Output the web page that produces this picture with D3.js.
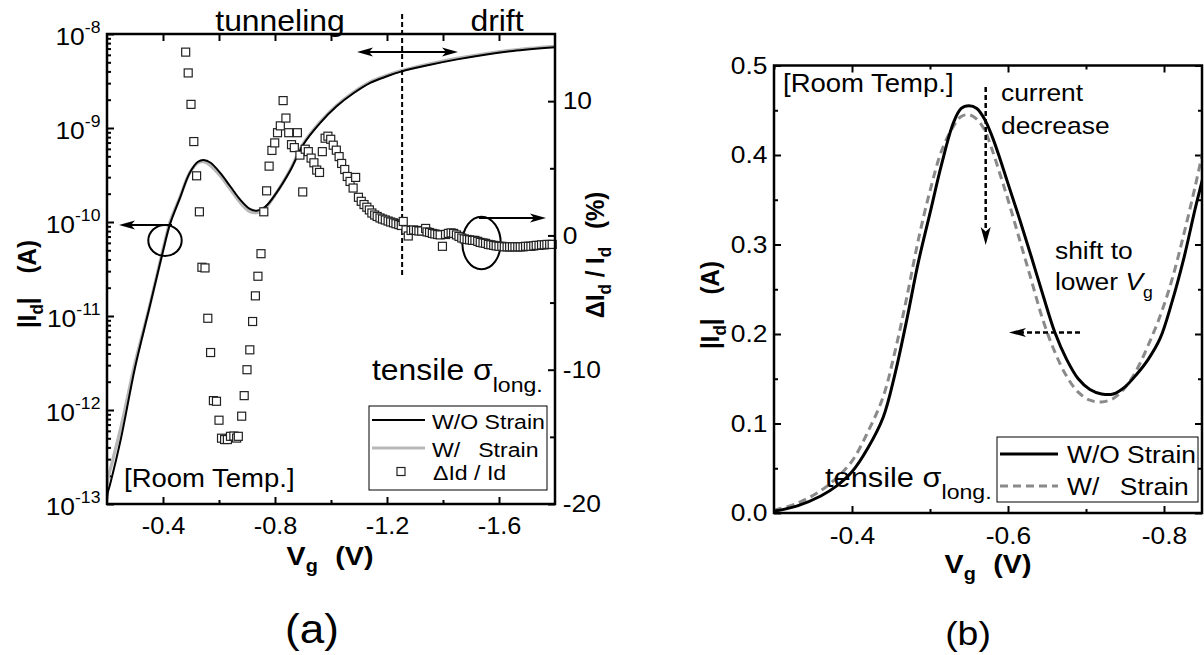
<!DOCTYPE html>
<html><head><meta charset="utf-8">
<script src="https://cdn.jsdelivr.net/npm/d3@7"></script>
<style>
html,body{margin:0;padding:0;background:#fff;}
svg{display:block;font-family:"Liberation Sans", Arial, Helvetica, sans-serif;}
</style></head><body>
<svg id="c" width="1204" height="655"></svg>
<script>
// ---------------- DATA ----------------
// Panel (a): gate voltage (V) and |Id| (A), log scale
const vgA = [-0.2, -0.203, -0.212, -0.25, -0.3, -0.35, -0.4, -0.425, -0.46, -0.495, -0.525, -0.545, -0.57, -0.605, -0.64, -0.675, -0.71, -0.735, -0.765, -0.805, -0.855, -0.9, -0.96, -1.02, -1.08, -1.14, -1.2, -1.25, -1.35, -1.45, -1.55, -1.65, -1.8];
const idNoStrainA = [1.0e-13, 1.32e-13, 1.66e-13, 5.0e-13, 2.82e-12, 1.17e-11, 4.9e-11, 9.5e-11, 1.78e-10, 3.31e-10, 4.37e-10, 4.57e-10, 4.27e-10, 3.31e-10, 2.40e-10, 1.74e-10, 1.38e-10, 1.32e-10, 1.45e-10, 2.04e-10, 3.55e-10, 6.6e-10, 1.12e-9, 1.70e-9, 2.34e-9, 3.02e-9, 3.55e-9, 3.98e-9, 4.68e-9, 5.37e-9, 6.03e-9, 6.61e-9, 7.24e-9];
const idStrainA = [1.58e-13, 1.85e-13, 2.35e-13, 6.6e-13, 3.16e-12, 1.20e-11, 5.1e-11, 1.0e-10, 1.82e-10, 3.31e-10, 4.27e-10, 4.37e-10, 3.98e-10, 3.09e-10, 2.24e-10, 1.62e-10, 1.29e-10, 1.26e-10, 1.41e-10, 2.04e-10, 3.63e-10, 6.76e-10, 1.15e-9, 1.74e-9, 2.40e-9, 3.09e-9, 3.63e-9, 4.07e-9, 4.79e-9, 5.50e-9, 6.17e-9, 6.76e-9, 7.41e-9];
// Panel (a): ΔId/Id (%) scatter
const scatterVg = [-0.481,-0.490,-0.500,-0.510,-0.520,-0.530,-0.539,-0.550,-0.560,-0.570,-0.580,-0.591,-0.600,-0.609,-0.620,-0.630,-0.641,-0.653,-0.663,-0.669,-0.681,-0.690,-0.700,-0.710,-0.720,-0.730,-0.739,-0.750,-0.760,-0.770,-0.779,-0.789,-0.799,-0.809,-0.819,-0.829,-0.839,-0.849,-0.859,-0.869,-0.880,-0.889,-0.899,-0.908,-0.919,-0.929,-0.939,-0.949,-0.959,-0.969,-0.979,-0.989,-0.999,-1.008,-1.019,-1.029,-1.038,-1.049,-1.058,-1.068,-1.079,-1.088,-1.098,-1.108,-1.118,-1.128,-1.137,
 -1.146,-1.156,-1.165,-1.175,-1.184,-1.194,-1.204,-1.213,-1.223,-1.232,-1.242,-1.251,-1.258,-1.268,-1.276,-1.286,-1.295,-1.305,-1.314,-1.324,-1.338,-1.343,-1.352,-1.362,-1.371,-1.381,-1.390,-1.398,-1.409,-1.419,-1.429,-1.438,-1.448,-1.457,-1.467,-1.476,-1.486,-1.495,-1.505,-1.514,-1.524,-1.533,-1.543,-1.552,-1.562,-1.571,-1.581,-1.590,-1.600,-1.610,-1.619,-1.629,-1.638,-1.648,-1.657,-1.667,-1.676,-1.686,-1.695,-1.705,-1.714,-1.724,-1.733,-1.743,-1.752,-1.762,-1.771,-1.781,-1.790];
const scatterPct = [13.65,12.10,9.76,6.99,4.44,1.76,-2.37,-2.42,-6.17,-8.72,-12.30,-12.35,-13.76,-15.10,-15.20,-15.20,-14.96,-14.94,-15.09,-14.96,-13.46,-11.93,-10.00,-8.52,-6.41,-4.50,-3.04,-1.36,1.76,3.32,5.16,6.33,6.89,7.65,8.16,10.04,8.74,7.65,6.76,6.54,7.65,5.98,3.24,6.42,6.24,5.76,5.41,4.87,4.69,6.24,7.24,7.39,7.16,6.72,6.35,5.87,5.36,4.91,4.39,4.02,3.53,4.32,2.84,2.54,2.30,2.10,1.90,
 1.67,1.52,1.41,1.30,1.22,1.15,1.07,1.00,0.94,0.87,0.81,0.74,1.04,0.41,-0.04,0.37,0.41,0.37,0.33,0.33,0.52,0.26,0.22,0.15,0.11,0.07,0.04,-0.81,0.07,0.15,0.19,0.15,0.04,-0.07,-0.19,-0.26,-0.30,-0.33,-0.37,-0.37,-0.44,-0.52,-0.56,-0.59,-0.67,-0.70,-0.74,-0.78,-0.81,-0.81,-0.85,-0.85,-0.85,-0.85,-0.85,-0.85,-0.85,-0.85,-0.81,-0.81,-0.81,-0.78,-0.74,-0.74,-0.70,-0.70,-0.67,-0.67,-0.67];
// Panel (b): gate voltage (V) and |Id| (A), linear scale
const vgB = [-0.30, -0.33, -0.36, -0.38, -0.40, -0.42, -0.44, -0.455, -0.47, -0.485, -0.50, -0.515, -0.53, -0.54, -0.55, -0.56, -0.57, -0.58, -0.59, -0.60, -0.615, -0.63, -0.645, -0.66, -0.675, -0.69, -0.705, -0.72, -0.735, -0.75, -0.765, -0.78, -0.795, -0.81, -0.825, -0.84, -0.85];
const idNoStrainB = [0.002, 0.008, 0.019, 0.030, 0.046, 0.072, 0.107, 0.155, 0.215, 0.280, 0.335, 0.390, 0.436, 0.452, 0.455, 0.452, 0.440, 0.420, 0.395, 0.368, 0.328, 0.286, 0.243, 0.202, 0.172, 0.150, 0.138, 0.133, 0.133, 0.141, 0.155, 0.172, 0.195, 0.235, 0.283, 0.340, 0.375];
const idStrainB = [0.003, 0.011, 0.025, 0.039, 0.058, 0.090, 0.130, 0.180, 0.240, 0.305, 0.360, 0.405, 0.432, 0.443, 0.445, 0.440, 0.428, 0.405, 0.378, 0.350, 0.305, 0.260, 0.215, 0.180, 0.153, 0.135, 0.126, 0.124, 0.128, 0.140, 0.160, 0.188, 0.220, 0.260, 0.310, 0.365, 0.405];
// Tick values
const xTicksA = [-0.4, -0.8, -1.2, -1.6];
const xMinorA = [-0.6, -1.0, -1.4];
const yTicksA = [1e-13, 1e-12, 1e-11, 1e-10, 1e-9, 1e-8];
const yExpA = ['-13', '-12', '-11', '-10', '-9', '-8'];
const y2TicksA = [-20, -10, 0, 10];
const y2MinorA = [-15, -5, 5];
const xTicksB = [-0.4, -0.6, -0.8];
const xMinorB = [-0.3, -0.5, -0.7];
const yTicksB = [0.0, 0.1, 0.2, 0.3, 0.4, 0.5];
const yMinorB = [0.05, 0.15, 0.25, 0.35, 0.45];

// ---------------- DRAW ----------------
const SX = 1.1;           // horizontal text stretch of the original figure
const svg = d3.select('#c');
const FW = 2.5;

function txt(x, y, size, opts = {}) {
  const rot = opts.rotate ? ` rotate(${opts.rotate})` : '';
  const t = svg.append('text')
    .attr('transform', `translate(${x},${y}) scale(${SX},1)${rot}`)
    .attr('font-size', size)
    .attr('text-anchor', opts.anchor || 'start')
    .attr('fill', '#000');
  if (opts.bold) t.attr('font-weight', 'bold');
  if (opts.text !== undefined) t.text(opts.text);
  return t;
}

function axisCall(g, gen, values, size, pad, fmt, fs) {
  gen.tickValues(values).tickSizeInner(size).tickSizeOuter(0).tickPadding(pad).tickFormat(fmt);
  g.call(gen);
  g.attr('font-size', fs || 24).attr('font-family', null);
  g.select('.domain').remove();
  g.selectAll('.tick line').attr('stroke', '#000').attr('stroke-width', 2);
  g.selectAll('.tick text').attr('transform', `scale(${SX},1)`).attr('fill', '#000');
  return g;
}
const f1 = d => d.toFixed(1);
const none = () => '';

// ===== Panel (a) =====
const xA = d3.scaleLinear().domain([-0.2, -1.8]).range([107, 555]);
const yA = d3.scaleLog().domain([1e-13, 1e-8]).range([504, 34]);
const y2A = d3.scaleLinear().domain([-20, 15]).range([504, 34]);
const [ax0, ax1] = xA.range(); const [ayB, ayT] = yA.range();

svg.append('clipPath').attr('id', 'clipA').append('rect')
  .attr('x', ax0).attr('y', ayT).attr('width', ax1 - ax0).attr('height', ayB - ayT);

// ticks
axisCall(svg.append('g').attr('transform', `translate(0,${ayB})`), d3.axisBottom(xA), xTicksA, -7, 14, f1, 23);
axisCall(svg.append('g').attr('transform', `translate(0,${ayB})`), d3.axisBottom(xA), xMinorA, -4, 0, none);
axisCall(svg.append('g').attr('transform', `translate(0,${ayT})`), d3.axisTop(xA), xTicksA.concat(xMinorA), -7, 0, none);

const gAl = svg.append('g').attr('transform', `translate(${ax0},0)`);
axisCall(gAl, d3.axisLeft(yA), yTicksA, -7, 6, none, 24);
gAl.selectAll('.tick text').each(function (d, i) {
  const t = d3.select(this).attr('dy', '0.42em');
  t.append('tspan').text('10');
  t.append('tspan').text(yExpA[i]).attr('font-size', 16).attr('dy', '-0.75em');
});
const minorLog = [];
yTicksA.slice(0, -1).forEach(v => { for (let k = 2; k <= 9; k++) minorLog.push(v * k); });
axisCall(svg.append('g').attr('transform', `translate(${ax0},0)`), d3.axisLeft(yA), minorLog, -4, 0, none);

axisCall(svg.append('g').attr('transform', `translate(${ax1},0)`), d3.axisRight(y2A), y2TicksA, -7, 7, d => String(d), 24);
axisCall(svg.append('g').attr('transform', `translate(${ax1},0)`), d3.axisRight(y2A), y2MinorA, -5, 0, none);

// curves
const plotA = svg.append('g').attr('clip-path', 'url(#clipA)');
const lineA = d3.line().x(d => xA(d[0])).y(d => yA(d[1])).curve(d3.curveCatmullRom.alpha(0.5));
plotA.append('path').datum(d3.zip(vgA, idStrainA)).attr('d', lineA)
  .attr('fill', 'none').attr('stroke', '#b8b8b8').attr('stroke-width', 3.2);
plotA.append('path').datum(d3.zip(vgA, idNoStrainA)).attr('d', lineA)
  .attr('fill', 'none').attr('stroke', '#000').attr('stroke-width', 2);

// annotations (a)
const xDiv = xA(-1.254);
svg.append('line').attr('x1', xDiv).attr('x2', xDiv).attr('y1', 14).attr('y2', 278)
  .attr('stroke', '#000').attr('stroke-width', 2).attr('stroke-dasharray', '5,3');

function arrowHead(x, y, dir, len, half) { // dir: 1 pointing right, -1 pointing left
  return `M${x},${y} L${x - dir * len},${y - half} L${x - dir * len * 0.75},${y} L${x - dir * len},${y + half} Z`;
}
function arrowHeadV(x, y, len, half) { // pointing down
  return `M${x},${y} L${x - half},${y - len} L${x},${y - len * 0.75} L${x + half},${y - len} Z`;
}
// double arrow
svg.append('line').attr('x1', 362).attr('x2', 453).attr('y1', 52).attr('y2', 52).attr('stroke', '#000').attr('stroke-width', 2);
svg.append('path').attr('d', arrowHead(357, 52, -1, 16, 4.5)).attr('fill', '#000');
svg.append('path').attr('d', arrowHead(458, 52, 1, 16, 4.5)).attr('fill', '#000');

// ellipses + arrows
svg.append('ellipse').attr('cx', 165).attr('cy', 240.5).attr('rx', 16.7).attr('ry', 15.5)
  .attr('fill', 'none').attr('stroke', '#000').attr('stroke-width', 2);
svg.append('line').attr('x1', 172).attr('x2', 128).attr('y1', 225).attr('y2', 225).attr('stroke', '#000').attr('stroke-width', 2);
svg.append('path').attr('d', arrowHead(119, 225, -1, 16, 4.5)).attr('fill', '#000');

svg.append('ellipse').attr('cx', 481.5).attr('cy', 243).attr('rx', 19.2).attr('ry', 26.3)
  .attr('fill', 'none').attr('stroke', '#000').attr('stroke-width', 2);
svg.append('line').attr('x1', 479).attr('x2', 538).attr('y1', 218).attr('y2', 218).attr('stroke', '#000').attr('stroke-width', 2);
svg.append('path').attr('d', arrowHead(546, 218, 1, 16, 4.5)).attr('fill', '#000');

// scatter
const sq = 8;
svg.append('g').selectAll('rect').data(d3.zip(scatterVg, scatterPct)).join('rect')
  .attr('x', d => xA(d[0]) - sq / 2).attr('y', d => y2A(d[1]) - sq / 2)
  .attr('width', sq).attr('height', sq)
  .attr('fill', '#fff').attr('stroke', '#222').attr('stroke-width', 1.2);

// frame
svg.append('rect').attr('x', ax0).attr('y', ayT).attr('width', ax1 - ax0).attr('height', ayB - ayT)
  .attr('fill', 'none').attr('stroke', '#000').attr('stroke-width', FW);

// texts (a)
txt(280, 31, 29, { anchor: 'middle', text: 'tunneling' });
txt(497, 31, 29, { anchor: 'middle', text: 'drift' });
txt(124, 487, 25, { text: '[Room Temp.]' });
{
  const t = txt(372, 380, 29);
  t.append('tspan').text('tensile σ');
  t.append('tspan').text('long.').attr('font-size', 21).attr('dy', 12);
}
// legend (a)
svg.append('rect').attr('x', 369).attr('y', 406).attr('width', 178).attr('height', 84)
  .attr('fill', '#fff').attr('stroke', '#000').attr('stroke-width', 1);
svg.append('line').attr('x1', 372).attr('x2', 425).attr('y1', 420).attr('y2', 420).attr('stroke', '#000').attr('stroke-width', 2);
svg.append('line').attr('x1', 372).attr('x2', 425).attr('y1', 448).attr('y2', 448).attr('stroke', '#b8b8b8').attr('stroke-width', 3);
svg.append('rect').attr('x', 397).attr('y', 467.5).attr('width', 8).attr('height', 8).attr('fill', '#fff').attr('stroke', '#222').attr('stroke-width', 1.2);
txt(432, 429, 21, { text: 'W/O Strain' });
const wWO = svg.append('text').attr('font-size', 21).text('W/O ');
const wWOlen = wWO.node().getComputedTextLength() * SX; wWO.remove();
txt(432, 457, 21, { text: 'W/' });
txt(432 + wWOlen, 457, 21, { text: 'Strain' });
txt(433, 480, 21, { text: 'ΔId / Id' });
// axis titles (a)
{
  const t = txt(330, 565, 26, { anchor: 'middle', bold: true });
  t.append('tspan').text('V');
  t.append('tspan').text('g').attr('font-size', 18).attr('dy', 7);
  t.append('tspan').text('(V)').attr('dy', -7).attr('dx', 16);
}
{
  const t = txt(36, 284, 24, { anchor: 'middle', bold: true, rotate: -90 });
  t.append('tspan').text('|I');
  t.append('tspan').text('d').attr('font-size', 17).attr('dy', 6);
  t.append('tspan').text('|').attr('dy', -6);
  t.append('tspan').text('(A)').attr('dx', 24);
}
{
  const t = txt(604, 255, 24, { anchor: 'middle', bold: true, rotate: -90 });
  t.append('tspan').text('ΔI');
  t.append('tspan').text('d').attr('font-size', 17).attr('dy', 6);
  t.append('tspan').text(' / I').attr('dy', -6);
  t.append('tspan').text('d').attr('font-size', 17).attr('dy', 6);
  t.append('tspan').text('(%)').attr('dy', -6).attr('dx', 18);
}
txt(312, 643, 40, { anchor: 'middle', text: '(a)' });

// ===== Panel (b) =====
const xB = d3.scaleLinear().domain([-0.3, -0.85]).range([774, 1203]);
const yB = d3.scaleLinear().domain([0, 0.5]).range([513, 65.5]);
const [bx0, bx1] = xB.range(); const [byB, byT] = yB.range();
svg.append('clipPath').attr('id', 'clipB').append('rect')
  .attr('x', bx0).attr('y', byT).attr('width', bx1 - bx0).attr('height', byB - byT);

axisCall(svg.append('g').attr('transform', `translate(0,${byB})`), d3.axisBottom(xB), xTicksB, -7, 14, f1, 24);
axisCall(svg.append('g').attr('transform', `translate(0,${byB})`), d3.axisBottom(xB), xMinorB, -4, 0, none);
axisCall(svg.append('g').attr('transform', `translate(0,${byT})`), d3.axisTop(xB), xTicksB, -7, 0, none);
axisCall(svg.append('g').attr('transform', `translate(0,${byT})`), d3.axisTop(xB), xMinorB, -4, 0, none);
axisCall(svg.append('g').attr('transform', `translate(${bx0},0)`), d3.axisLeft(yB), yTicksB, -7, 6, f1, 24);
axisCall(svg.append('g').attr('transform', `translate(${bx0},0)`), d3.axisLeft(yB), yMinorB, -4, 0, none);
axisCall(svg.append('g').attr('transform', `translate(${bx1 - 1},0)`), d3.axisRight(yB), yTicksB, -7, 0, none);
axisCall(svg.append('g').attr('transform', `translate(${bx1 - 1},0)`), d3.axisRight(yB), yMinorB, -4, 0, none);

const plotB = svg.append('g').attr('clip-path', 'url(#clipB)');
const lineB = d3.line().x(d => xB(d[0])).y(d => yB(d[1])).curve(d3.curveCatmullRom.alpha(0.5));
plotB.append('path').datum(d3.zip(vgB, idStrainB)).attr('d', lineB)
  .attr('fill', 'none').attr('stroke', '#8a8a8a').attr('stroke-width', 3).attr('stroke-dasharray', '8,5');
plotB.append('path').datum(d3.zip(vgB, idNoStrainB)).attr('d', lineB)
  .attr('fill', 'none').attr('stroke', '#000').attr('stroke-width', 3);

svg.append('rect').attr('x', bx0).attr('y', byT).attr('width', bx1 - bx0 - 1).attr('height', byB - byT)
  .attr('fill', 'none').attr('stroke', '#000').attr('stroke-width', FW);

// annotations (b)
const xCur = xB(-0.5714);
svg.append('line').attr('x1', xCur).attr('x2', xCur).attr('y1', 87).attr('y2', 230)
  .attr('stroke', '#000').attr('stroke-width', 2.5).attr('stroke-dasharray', '5,3');
svg.append('path').attr('d', arrowHeadV(xCur, 245, 18, 5)).attr('fill', '#000');
svg.append('line').attr('x1', 1080).attr('x2', 1022).attr('y1', 332.5).attr('y2', 332.5)
  .attr('stroke', '#000').attr('stroke-width', 2.5).attr('stroke-dasharray', '5,3');
svg.append('path').attr('d', arrowHead(1009, 332.5, -1, 17, 4.5)).attr('fill', '#000');

txt(783, 92, 25, { text: '[Room Temp.]' });
txt(1001, 101, 24, { text: 'current' });
txt(1001, 134, 24, { text: 'decrease' });
txt(1055, 259, 24, { text: 'shift to' });
{
  const t = txt(1055, 290, 24);
  t.append('tspan').text('lower ');
  t.append('tspan').text('V').attr('font-style', 'italic');
  t.append('tspan').text('g').attr('font-size', 16).attr('dy', 8);
}
{
  const t = txt(825, 487, 28);
  t.append('tspan').text('tensile σ');
  t.append('tspan').text('long.').attr('font-size', 21).attr('dy', 12);
}
// legend (b)
svg.append('rect').attr('x', 997).attr('y', 437).attr('width', 201).attr('height', 65)
  .attr('fill', '#fff').attr('stroke', '#000').attr('stroke-width', 1);
svg.append('line').attr('x1', 1000).attr('x2', 1058).attr('y1', 454).attr('y2', 454).attr('stroke', '#000').attr('stroke-width', 3);
svg.append('line').attr('x1', 1000).attr('x2', 1058).attr('y1', 486).attr('y2', 486).attr('stroke', '#8a8a8a').attr('stroke-width', 3).attr('stroke-dasharray', '8,5');
txt(1067, 463, 24, { text: 'W/O Strain' });
const wWO2 = svg.append('text').attr('font-size', 24).text('W/O ');
const wWO2len = wWO2.node().getComputedTextLength() * SX; wWO2.remove();
txt(1067, 495, 24, { text: 'W/' });
txt(1067 + wWO2len, 495, 24, { text: 'Strain' });

{
  const t = txt(988, 573, 26, { anchor: 'middle', bold: true });
  t.append('tspan').text('V');
  t.append('tspan').text('g').attr('font-size', 18).attr('dy', 7);
  t.append('tspan').text('(V)').attr('dy', -7).attr('dx', 16);
}
{
  const t = txt(719, 305, 24, { anchor: 'middle', bold: true, rotate: -90 });
  t.append('tspan').text('|I');
  t.append('tspan').text('d').attr('font-size', 17).attr('dy', 6);
  t.append('tspan').text('|').attr('dy', -6);
  t.append('tspan').text('(A)').attr('dx', 24);
}
txt(968, 645, 34, { anchor: 'middle', text: '(b)' });
</script></body></html>
